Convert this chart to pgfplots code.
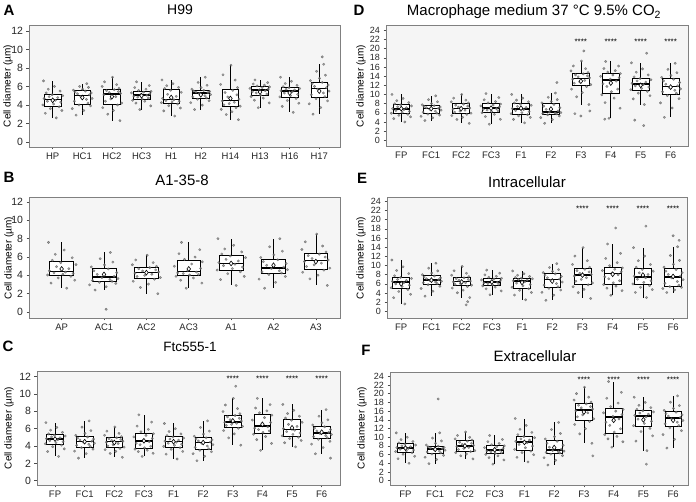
\documentclass[border=0pt]{standalone}
\usepackage{fontspec}
\setmainfont{Liberation Sans}
\usepackage{pgfplots}
\usepackage{pgfplotstable}
\pgfplotsset{compat=1.18}
\usepgfplotslibrary{statistics}

\pgfplotsset{
  panel/.style={
    scale only axis, anchor=south west,
    axis background/.style={fill=black!4},
    axis line style={draw=black!50, line width=0.8pt},
    tick align=outside, tick pos=left,
    major tick length=2.5pt,
    every tick/.style={black!70, line width=0.5pt},
    ticklabel style={text=black!85},
    /pgf/number format/assume math mode=true,
    xticklabel style={font=\fontsize{9.5}{9.5}\selectfont},
    xtick={1,...,10},
  },
  bp/.style={draw=black, line width=0.6pt, fill=white, solid,
    boxplot/draw direction=y,
    boxplot/box extend=0.56, boxplot/whisker extend=0,
    boxplot/every median/.style={line width=1.5pt}},
  pts/.style={only marks, mark=*, mark size=1.25pt,
    mark options={draw=black!65, fill=black!50, line width=0.25pt, opacity=0.75}},
  mn/.style={only marks, mark=diamond*, mark size=2.4pt,
    mark options={draw=black, fill=white, line width=0.6pt}},
}
\newcommand{\bx}[6]{\addplot[bp, boxplot prepared={draw position=#1, lower whisker=#2,
  lower quartile=#3, median=#4, upper quartile=#5, upper whisker=#6}] coordinates {};}
\newcommand{\jit}[4]{\addplot[pts] table[x expr={#1+\thisrow{#2}}, y=#3] {#4};}
\newcommand{\stars}[1]{\node[font=\fontsize{8}{8}\selectfont] at (axis cs:7,#1) {****};
  \node[font=\fontsize{8}{8}\selectfont] at (axis cs:8,#1) {****};
  \node[font=\fontsize{8}{8}\selectfont] at (axis cs:9,#1) {****};
  \node[font=\fontsize{8}{8}\selectfont] at (axis cs:10,#1) {****};}

% H99
\pgfplotstableread{
ja jb jc jd HP HC1 HC2 HC3 H1 H2 H14 H13 H16 H17
0.12 -0.21 0.27 -0.06 2.6 2.9 2.3 3.5 2.8 3.5 2.4 3.7 3.2 3.0
-0.25 0.05 -0.14 0.31 3.1 3.4 3.0 3.9 3.36 3.98 2.96 4.22 3.84 3.72
0.31 -0.34 0.05 -0.19 3.4 3.6 3.4 4.2 3.67 4.24 3.27 4.51 4.19 4.12
-0.08 0.28 -0.31 0.11 3.6 3.9 3.7 4.4 3.92 4.46 3.52 4.74 4.48 4.44
0.22 -0.11 0.19 -0.30 3.8 4.0 4.0 4.5 4.1 4.62 3.7 4.91 4.69 4.67
-0.33 0.19 0.33 0.02 4.0 4.2 4.2 4.65 4.24 4.76 3.87 5.06 4.87 4.9
0.03 -0.27 -0.22 0.23 4.1 4.4 4.4 4.75 4.32 4.88 4.01 5.18 5.01 5.1
0.27 0.14 -0.04 -0.13 4.3 4.6 4.65 4.85 4.4 5.0 4.15 5.3 5.15 5.3
-0.18 0.33 0.13 -0.26 4.4 4.7 4.9 4.95 4.48 5.12 4.29 5.42 5.29 5.5
0.09 -0.05 -0.27 0.18 4.5 4.9 5.1 5.05 4.56 5.24 4.43 5.54 5.43 5.7
-0.29 0.24 0.29 -0.02 4.7 5.1 5.25 5.14 4.71 5.33 4.62 5.64 5.54 5.87
0.17 -0.16 -0.09 0.28 4.8 5.2 5.35 5.22 4.93 5.39 4.86 5.72 5.62 6.01
-0.12 0.30 0.22 -0.34 4.9 5.3 5.45 5.3 5.15 5.45 5.1 5.8 5.7 6.15
0.34 -0.24 -0.18 0.07 5.0 5.4 5.55 5.38 5.37 5.51 5.34 5.88 5.78 6.29
-0.02 0.10 0.08 0.32 5.1 5.5 5.65 5.46 5.59 5.57 5.58 5.96 5.86 6.43
-0.22 -0.30 0.24 -0.10 5.3 5.6 5.8 5.57 5.77 5.7 5.88 6.05 5.98 6.63
0.25 0.01 -0.33 0.15 5.5 5.7 6.0 5.7 5.9 5.88 6.22 6.14 6.12 6.88
-0.15 0.21 0.16 -0.23 5.7 5.9 6.2 5.88 6.08 6.13 6.69 6.27 6.32 7.22
0.06 -0.09 -0.25 0.26 6.0 6.0 6.5 6.1 6.3 6.44 7.26 6.42 6.56 7.64
-0.31 0.15 0.02 -0.17 6.6 6.3 7.0 6.5 6.7 7.0 8.3 6.7 7.0 8.4
}\tA

% A1-35-8
\pgfplotstableread{
ja jb jc jd AP AC1 AC2 AC3 A1 A2 A3
0.12 -0.21 0.27 -0.06 2.6 2.4 2.0 2.6 2.9 2.6 2.9
-0.25 0.05 -0.14 0.31 3.16 2.76 2.68 3.16 3.54 3.24 3.62
0.31 -0.34 0.05 -0.19 3.47 2.96 3.05 3.47 3.89 3.59 4.02
-0.08 0.28 -0.31 0.11 3.72 3.12 3.36 3.72 4.18 3.88 4.34
0.22 -0.11 0.19 -0.30 3.9 3.24 3.58 3.9 4.39 4.09 4.57
-0.33 0.19 0.33 0.02 4.04 3.35 3.76 4.04 4.58 4.26 4.79
0.03 -0.27 -0.22 0.23 4.12 3.45 3.88 4.12 4.74 4.38 4.97
0.27 0.14 -0.04 -0.13 4.2 3.55 4.0 4.2 4.9 4.5 5.15
-0.18 0.33 0.13 -0.26 4.28 3.65 4.12 4.28 5.06 4.62 5.33
0.09 -0.05 -0.27 0.18 4.36 3.75 4.24 4.36 5.22 4.74 5.51
-0.29 0.24 0.29 -0.02 4.51 3.9 4.36 4.52 5.39 4.9 5.68
0.17 -0.16 -0.09 0.28 4.73 4.1 4.48 4.76 5.57 5.1 5.84
-0.12 0.30 0.22 -0.34 4.95 4.3 4.6 5.0 5.75 5.3 6.0
0.34 -0.24 -0.18 0.07 5.17 4.5 4.72 5.24 5.93 5.5 6.16
-0.02 0.10 0.08 0.32 5.39 4.7 4.84 5.48 6.11 5.7 6.32
-0.22 -0.30 0.24 -0.10 5.65 4.92 4.99 5.74 6.33 5.95 6.55
0.25 0.01 -0.33 0.15 5.92 5.14 5.16 6.0 6.56 6.24 6.82
-0.15 0.21 0.16 -0.23 6.3 5.45 5.39 6.36 6.88 6.64 7.2
0.06 -0.09 -0.25 0.26 6.76 5.82 5.68 6.8 7.28 7.12 7.66
-0.31 0.15 0.02 -0.17 7.6 6.5 6.2 7.6 8.0 8.0 8.5
}\tB

% Ftc555-1
\pgfplotstableread{
ja jb jc jd FP FC1 FC2 FC3 F1 F2 F3 F4 F5 F6
0.12 -0.21 0.27 -0.06 2.8 2.6 2.7 2.8 2.5 2.3 4.1 3.5 3.9 3.1
-0.25 0.05 -0.14 0.31 3.36 3.12 3.14 3.16 3.06 2.82 4.94 4.3 4.38 3.82
0.31 -0.34 0.05 -0.19 3.67 3.41 3.38 3.36 3.37 3.11 5.4 4.74 4.64 4.22
-0.08 0.28 -0.31 0.11 3.92 3.64 3.58 3.52 3.62 3.34 5.78 5.1 4.86 4.54
0.22 -0.11 0.19 -0.30 4.1 3.81 3.72 3.64 3.8 3.51 6.05 5.36 5.02 4.77
-0.33 0.19 0.33 0.02 4.26 3.96 3.87 3.79 3.96 3.68 6.26 5.58 5.18 4.96
0.03 -0.27 -0.22 0.23 4.38 4.08 4.01 3.97 4.08 3.84 6.38 5.74 5.34 5.08
0.27 0.14 -0.04 -0.13 4.5 4.2 4.15 4.15 4.2 4.0 6.5 5.9 5.5 5.2
-0.18 0.33 0.13 -0.26 4.62 4.32 4.29 4.33 4.32 4.16 6.62 6.06 5.66 5.32
0.09 -0.05 -0.27 0.18 4.74 4.44 4.43 4.51 4.44 4.32 6.74 6.22 5.82 5.44
-0.29 0.24 0.29 -0.02 4.85 4.56 4.55 4.69 4.56 4.46 6.88 6.44 6.02 5.58
0.17 -0.16 -0.09 0.28 4.95 4.68 4.65 4.87 4.68 4.58 7.04 6.72 6.26 5.74
-0.12 0.30 0.22 -0.34 5.05 4.8 4.75 5.05 4.8 4.7 7.2 7.0 6.5 5.9
0.34 -0.24 -0.18 0.07 5.15 4.92 4.85 5.23 4.92 4.82 7.36 7.28 6.74 6.06
-0.02 0.10 0.08 0.32 5.25 5.04 4.95 5.41 5.04 4.94 7.52 7.56 6.98 6.22
-0.22 -0.30 0.24 -0.10 5.4 5.23 5.08 5.65 5.21 5.13 7.73 7.83 7.22 6.43
0.25 0.01 -0.33 0.15 5.58 5.46 5.24 5.92 5.4 5.38 7.98 8.06 7.44 6.68
-0.15 0.21 0.16 -0.23 5.83 5.78 5.46 6.3 5.67 5.72 8.32 8.38 7.75 7.02
0.06 -0.09 -0.25 0.26 6.14 6.18 5.72 6.76 6.0 6.14 8.74 8.78 8.12 7.44
-0.31 0.15 0.02 -0.17 6.7 6.9 6.2 7.6 6.6 6.9 9.5 9.5 8.8 8.2
}\tC

% Macrophage medium
\pgfplotstableread{
ja jb jc jd FP FC1 FC2 FC3 F1 F2 F3 F4 F5 F6
0.12 -0.21 0.27 -0.06 4.0 4.3 3.7 3.5 3.8 3.7 7.8 4.8 7.8 5.0
-0.25 0.05 -0.14 0.31 4.72 4.9 4.54 4.58 4.56 4.5 9.48 7.0 9.04 7.04
0.31 -0.34 0.05 -0.19 5.12 5.23 5.0 5.17 4.98 4.94 10.4 8.21 9.72 8.16
-0.08 0.28 -0.31 0.11 5.44 5.5 5.38 5.66 5.32 5.3 11.16 9.2 10.28 9.08
0.22 -0.11 0.19 -0.30 5.67 5.7 5.65 6.01 5.57 5.56 11.71 9.92 10.68 9.74
-0.33 0.19 0.33 0.02 5.9 5.91 5.91 6.28 5.81 5.75 12.15 10.59 11.04 10.26
0.03 -0.27 -0.22 0.23 6.1 6.13 6.13 6.44 6.03 5.85 12.45 11.17 11.32 10.58
0.27 0.14 -0.04 -0.13 6.3 6.35 6.35 6.6 6.25 5.95 12.75 11.75 11.6 10.9
-0.18 0.33 0.13 -0.26 6.5 6.57 6.57 6.76 6.47 6.05 13.05 12.33 11.88 11.22
0.09 -0.05 -0.27 0.18 6.7 6.79 6.79 6.92 6.69 6.15 13.35 12.91 12.16 11.54
-0.29 0.24 0.29 -0.02 6.9 6.97 7.01 7.1 6.92 6.38 13.61 13.35 12.43 11.88
0.17 -0.16 -0.09 0.28 7.1 7.11 7.23 7.3 7.16 6.74 13.83 13.65 12.69 12.24
-0.12 0.30 0.22 -0.34 7.3 7.25 7.45 7.5 7.4 7.1 14.05 13.95 12.95 12.6
0.34 -0.24 -0.18 0.07 7.5 7.39 7.67 7.7 7.64 7.46 14.27 14.25 13.21 12.96
-0.02 0.10 0.08 0.32 7.7 7.53 7.89 7.9 7.88 7.82 14.49 14.55 13.47 13.32
-0.22 -0.30 0.24 -0.10 7.95 7.75 8.14 8.15 8.14 8.16 14.79 14.88 13.83 13.73
0.25 0.01 -0.33 0.15 8.24 8.02 8.4 8.44 8.4 8.46 15.14 15.2 14.26 14.16
-0.15 0.21 0.16 -0.23 8.64 8.4 8.76 8.84 8.76 8.87 15.63 15.65 14.85 14.75
0.06 -0.09 -0.25 0.26 9.12 8.86 9.2 9.32 9.2 9.38 16.22 16.2 15.58 15.48
-0.31 0.15 0.02 -0.17 10.0 9.7 10.0 10.2 10.0 10.3 17.3 17.2 16.9 16.8
}\tD

% Intracellular
\pgfplotstableread{
ja jb jc jd FP FC1 FC2 FC3 F1 F2 F3 F4 F5 F6
0.12 -0.21 0.27 -0.06 1.6 3.3 3.0 3.6 2.5 2.4 2.8 3.5 3.0 4.1
-0.25 0.05 -0.14 0.31 2.96 4.38 4.04 4.44 3.54 3.52 4.08 4.5 4.12 4.66
0.31 -0.34 0.05 -0.19 3.71 4.97 4.61 4.9 4.11 4.14 4.78 5.05 4.74 4.97
-0.08 0.28 -0.31 0.11 4.32 5.46 5.08 5.28 4.58 4.64 5.36 5.5 5.24 5.22
0.22 -0.11 0.19 -0.30 4.76 5.81 5.42 5.55 4.92 5.0 5.78 5.83 5.6 5.4
-0.33 0.19 0.33 0.02 5.14 6.08 5.69 5.77 5.25 5.37 6.19 6.22 5.97 5.7
0.03 -0.27 -0.22 0.23 5.42 6.24 5.87 5.91 5.55 5.71 6.57 6.66 6.31 6.1
0.27 0.14 -0.04 -0.13 5.7 6.4 6.05 6.05 5.85 6.05 6.95 7.1 6.65 6.5
-0.18 0.33 0.13 -0.26 5.98 6.56 6.23 6.19 6.15 6.39 7.33 7.54 6.99 6.9
0.09 -0.05 -0.27 0.18 6.26 6.72 6.41 6.33 6.45 6.73 7.71 7.98 7.33 7.3
-0.29 0.24 0.29 -0.02 6.51 6.9 6.59 6.49 6.67 7.04 8.04 8.34 7.68 7.68
0.17 -0.16 -0.09 0.28 6.73 7.1 6.77 6.67 6.81 7.32 8.32 8.62 8.04 8.04
-0.12 0.30 0.22 -0.34 6.95 7.3 6.95 6.85 6.95 7.6 8.6 8.9 8.4 8.4
0.34 -0.24 -0.18 0.07 7.17 7.5 7.13 7.03 7.09 7.88 8.88 9.18 8.76 8.76
-0.02 0.10 0.08 0.32 7.39 7.7 7.31 7.21 7.23 8.16 9.16 9.46 9.12 9.12
-0.22 -0.30 0.24 -0.10 7.76 7.99 7.57 7.42 7.41 8.45 9.62 9.96 9.62 9.64
0.25 0.01 -0.33 0.15 8.24 8.34 7.88 7.64 7.6 8.72 10.22 10.62 10.22 10.26
-0.15 0.21 0.16 -0.23 8.91 8.83 8.31 7.95 7.87 9.1 11.05 11.54 11.05 11.12
0.06 -0.09 -0.25 0.26 9.72 9.42 8.84 8.32 8.2 9.56 12.06 12.66 12.06 12.18
-0.31 0.15 0.02 -0.17 11.2 10.5 9.8 9.0 8.8 10.4 13.9 14.7 13.9 14.1
}\tE

% Extracellular
\pgfplotstableread{
ja jb jc jd FP FC1 FC2 FC3 F1 F2 F3 F4 F5 F6
0.12 -0.21 0.27 -0.06 4.0 3.9 5.0 3.8 4.3 3.6 8.6 7.7 6.9 7.5
-0.25 0.05 -0.14 0.31 5.04 4.86 5.72 4.76 5.38 4.68 10.76 8.94 9.1 9.5
0.31 -0.34 0.05 -0.19 5.61 5.39 6.12 5.29 5.97 5.27 11.95 9.62 10.31 10.6
-0.08 0.28 -0.31 0.11 6.08 5.82 6.44 5.72 6.46 5.76 12.92 10.18 11.3 11.5
0.22 -0.11 0.19 -0.30 6.42 6.13 6.67 6.03 6.81 6.11 13.62 10.58 12.02 12.15
-0.33 0.19 0.33 0.02 6.69 6.4 6.92 6.29 7.19 6.37 14.23 11.18 12.65 12.69
0.03 -0.27 -0.22 0.23 6.87 6.6 7.16 6.47 7.57 6.51 14.69 11.94 13.15 13.07
0.27 0.14 -0.04 -0.13 7.05 6.8 7.4 6.65 7.95 6.65 15.15 12.7 13.65 13.45
-0.18 0.33 0.13 -0.26 7.23 7.0 7.64 6.83 8.33 6.79 15.61 13.46 14.15 13.83
0.09 -0.05 -0.27 0.18 7.41 7.2 7.88 7.01 8.71 6.93 16.07 14.22 14.65 14.21
-0.29 0.24 0.29 -0.02 7.6 7.37 8.12 7.2 9.04 7.23 16.45 14.8 15.03 14.55
0.17 -0.16 -0.09 0.28 7.8 7.51 8.36 7.4 9.32 7.69 16.75 15.2 15.29 14.85
-0.12 0.30 0.22 -0.34 8.0 7.65 8.6 7.6 9.6 8.15 17.05 15.6 15.55 15.15
0.34 -0.24 -0.18 0.07 8.2 7.79 8.84 7.8 9.88 8.61 17.35 16.0 15.81 15.45
-0.02 0.10 0.08 0.32 8.4 7.93 9.08 8.0 10.16 9.07 17.65 16.4 16.07 15.75
-0.22 -0.30 0.24 -0.10 8.68 8.21 9.34 8.26 10.58 9.59 18.06 17.03 16.41 16.15
0.25 0.01 -0.33 0.15 9.0 8.6 9.6 8.56 11.1 10.12 18.54 17.84 16.8 16.62
-0.15 0.21 0.16 -0.23 9.45 9.14 9.96 8.97 11.82 10.86 19.21 18.96 17.34 17.27
0.06 -0.09 -0.25 0.26 10.0 9.8 10.4 9.48 12.7 11.76 20.02 20.32 18.0 18.06
-0.31 0.15 0.02 -0.17 11.0 11.0 11.2 10.4 14.3 13.4 21.5 22.8 19.2 19.5
}\tF

\begin{document}
\begin{tikzpicture}
\path[use as bounding box] (0,0) rectangle (696pt,502pt);

% ---- labels ----
\tikzset{lett/.style={font=\fontsize{15}{15}\selectfont\bfseries},
  ttl/.style={font=\fontsize{15}{15}\selectfont},
  ylab/.style={rotate=90, font=\fontsize{10}{10}\selectfont}}
\node[lett] at (9pt,492pt) {A};
\node[lett] at (9pt,325pt) {B};
\node[lett] at (8pt,156pt) {C};
\node[lett] at (359pt,492pt) {D};
\node[lett] at (362pt,324pt) {E};
\node[lett] at (366pt,152pt) {F};
\node[ttl, font=\fontsize{14}{14}\selectfont] at (180pt,492pt) {H99};
\node[ttl] at (182pt,322pt) {A1-35-8};
\node[ttl, font=\fontsize{13.5}{13.5}\selectfont] at (190pt,155pt) {Ftc555-1};
\node[ttl] at (534pt,490pt) {Macrophage medium 37 °C 9.5\% CO\textsubscript{2}};
\node[ttl] at (527pt,320pt) {Intracellular};
\node[ttl] at (535pt,146pt) {Extracellular};
\node[ylab] at (8pt,416pt) {Cell diameter (µm)};
\node[ylab] at (9pt,244pt) {Cell diameter (µm)};
\node[ylab] at (9pt,74pt) {Cell diameter (µm)};
\node[ylab] at (361pt,416pt) {Cell diameter (µm)};
\node[ylab] at (361pt,244pt) {Cell diameter (µm)};
\node[ylab] at (362pt,74pt) {Cell diameter (µm)};

% ---- A: H99 ----
\begin{axis}[panel, at={(29pt,355pt)}, width=311pt, height=122pt,
  xmin=0.2, xmax=10.7, ymin=-0.55, ymax=12.65, ytick={0,2,...,12},
  yticklabel style={font=\fontsize{10.5}{10.5}\selectfont},
  xticklabels={HP,HC1,HC2,HC3,H1,H2,H14,H13,H16,H17}]
\bx{1}{2.6}{3.9}{4.6}{5.2}{6.6}
\bx{2}{2.9}{4.1}{5.0}{5.6}{6.3}
\bx{3}{2.3}{4.1}{5.2}{5.7}{7.0}
\bx{4}{3.5}{4.6}{5.1}{5.5}{6.5}
\bx{5}{2.8}{4.2}{4.6}{5.7}{6.7}
\bx{6}{3.5}{4.7}{5.3}{5.6}{7.0}
\bx{7}{2.4}{3.8}{4.5}{5.7}{8.3}
\bx{8}{3.7}{5.0}{5.6}{6.0}{6.7}
\bx{9}{3.2}{4.8}{5.5}{5.9}{7.0}
\bx{10}{3.0}{4.8}{5.8}{6.5}{8.4}
\jit{1}{ja}{HP}{\tA} \jit{2}{jb}{HC1}{\tA} \jit{3}{jc}{HC2}{\tA}
\jit{4}{jd}{HC3}{\tA} \jit{5}{ja}{H1}{\tA} \jit{6}{jb}{H2}{\tA}
\jit{7}{jc}{H14}{\tA} \jit{8}{jd}{H13}{\tA} \jit{9}{ja}{H16}{\tA}
\jit{10}{jb}{H17}{\tA}
\addplot[pts] coordinates {(10.1,9.2)};
\addplot[mn] coordinates {(1,4.5)(2,4.8)(3,4.9)(4,5.0)(5,4.8)(6,5.1)(7,4.7)(8,5.4)(9,5.3)(10,5.5)};
\end{axis}

% ---- B: A1-35-8 ----
\begin{axis}[panel, at={(29pt,184pt)}, width=311pt, height=121pt,
  xmin=0.23, xmax=7.57, ymin=-0.65, ymax=12.55, ytick={0,2,...,12}, xtick={1,...,7},
  yticklabel style={font=\fontsize{10.5}{10.5}\selectfont},
  xticklabels={AP,AC1,AC2,AC3,A1,A2,A3}]
\bx{1}{2.6}{4.0}{4.4}{5.5}{7.6}
\bx{2}{2.4}{3.3}{3.8}{4.8}{6.5}
\bx{3}{2.0}{3.7}{4.3}{4.9}{6.2}
\bx{4}{2.6}{4.0}{4.4}{5.6}{7.6}
\bx{5}{2.9}{4.5}{5.3}{6.2}{8.0}
\bx{6}{2.6}{4.2}{4.8}{5.8}{8.0}
\bx{7}{2.9}{4.7}{5.6}{6.4}{8.5}
\jit{1}{ja}{AP}{\tB} \jit{2}{jb}{AC1}{\tB} \jit{3}{jc}{AC2}{\tB}
\jit{4}{jd}{AC3}{\tB} \jit{5}{ja}{A1}{\tB} \jit{6}{jb}{A2}{\tB}
\jit{7}{jc}{A3}{\tB}
\addplot[pts] coordinates {(2.05,0.3)};
\addplot[mn] coordinates {(1,4.7)(2,4.1)(3,4.3)(4,4.7)(5,5.3)(6,5.1)(7,5.5)};
\end{axis}

% ---- C: Ftc555-1 ----
\begin{axis}[panel, at={(37pt,17pt)}, width=303pt, height=114pt,
  xmin=0.39, xmax=10.62, ymin=-0.5, ymax=12.66, ytick={0,2,...,12},
  yticklabel style={font=\fontsize{10.5}{10.5}\selectfont},
  xticklabels={FP,FC1,FC2,FC3,F1,F2,F3,F4,F5,F6}]
\bx{1}{2.8}{4.2}{4.8}{5.3}{6.7}
\bx{2}{2.6}{3.9}{4.5}{5.1}{6.9}
\bx{3}{2.7}{3.8}{4.5}{5.0}{6.2}
\bx{4}{2.8}{3.7}{4.6}{5.5}{7.6}
\bx{5}{2.5}{3.9}{4.5}{5.1}{6.6}
\bx{6}{2.3}{3.6}{4.4}{5.0}{6.9}
\bx{7}{4.1}{6.2}{6.8}{7.6}{9.5}
\bx{8}{3.5}{5.5}{6.3}{7.7}{9.5}
\bx{9}{3.9}{5.1}{5.9}{7.1}{8.8}
\bx{10}{3.1}{4.9}{5.5}{6.3}{8.2}
\jit{1}{ja}{FP}{\tC} \jit{2}{jb}{FC1}{\tC} \jit{3}{jc}{FC2}{\tC}
\jit{4}{jd}{FC3}{\tC} \jit{5}{ja}{F1}{\tC} \jit{6}{jb}{F2}{\tC}
\jit{7}{jc}{F3}{\tC} \jit{8}{jd}{F4}{\tC} \jit{9}{ja}{F5}{\tC}
\jit{10}{jb}{F6}{\tC}
\addplot[pts] coordinates {(7.1,10.9)(10.3,2.6)};
\addplot[mn] coordinates {(1,4.8)(2,4.5)(3,4.4)(4,4.6)(5,4.5)(6,4.4)(7,6.9)(8,6.5)(9,6.1)(10,5.6)};
\stars{11.8}
\end{axis}

% ---- D: Macrophage medium ----
\begin{axis}[panel, at={(386pt,356pt)}, width=302pt, height=121pt,
  xmin=0.49, xmax=10.58, ymin=-1.25, ymax=25.16, ytick={0,2,...,24},
  yticklabel style={font=\fontsize{9}{9}\selectfont},
  xticklabels={FP,FC1,FC2,FC3,F1,F2,F3,F4,F5,F6}]
\bx{1}{4.0}{5.8}{6.8}{7.8}{10.0}
\bx{2}{4.3}{5.8}{6.9}{7.6}{9.7}
\bx{3}{3.7}{5.8}{6.9}{8.0}{10.0}
\bx{4}{3.5}{6.2}{7.0}{8.0}{10.2}
\bx{5}{3.8}{5.7}{6.8}{8.0}{10.0}
\bx{6}{3.7}{5.7}{6.2}{8.0}{10.3}
\bx{7}{7.8}{12.0}{13.5}{14.6}{17.3}
\bx{8}{4.8}{10.3}{13.2}{14.7}{17.2}
\bx{9}{7.8}{10.9}{12.3}{13.6}{16.9}
\bx{10}{5.0}{10.1}{11.7}{13.5}{16.8}
\jit{1}{ja}{FP}{\tD} \jit{2}{jb}{FC1}{\tD} \jit{3}{jc}{FC2}{\tD}
\jit{4}{jd}{FC3}{\tD} \jit{5}{ja}{F1}{\tD} \jit{6}{jb}{F2}{\tD}
\jit{7}{jc}{F3}{\tD} \jit{8}{jd}{F4}{\tD} \jit{9}{ja}{F5}{\tD}
\jit{10}{jb}{F6}{\tD}
\addplot[pts] coordinates {(6.2,12.6)(7.1,19.5)(9.2,19.0)(8.8,4.4)(9.1,3.2)(7.0,5.3)(6.8,5.8)(7.3,6.4)(7.8,4.6)};
\addplot[mn] coordinates {(1,6.9)(2,6.9)(3,6.9)(4,7.0)(5,7.0)(6,6.8)(7,12.9)(8,12.5)(9,12.0)(10,11.6)};
\stars{21.6}
\end{axis}

% ---- E: Intracellular ----
\begin{axis}[panel, at={(387pt,184pt)}, width=300pt, height=121pt,
  xmin=0.53, xmax=10.46, ymin=-1.47, ymax=24.97, ytick={0,2,...,24},
  yticklabel style={font=\fontsize{9}{9}\selectfont},
  xticklabels={FP,FC1,FC2,FC3,F1,F2,F3,F4,F5,F6}]
\bx{1}{1.6}{5.0}{6.4}{7.5}{11.2}
\bx{2}{3.3}{6.0}{6.8}{7.8}{10.5}
\bx{3}{3.0}{5.6}{6.5}{7.4}{9.8}
\bx{4}{3.6}{5.7}{6.4}{7.3}{9.0}
\bx{5}{2.5}{5.1}{6.6}{7.3}{8.8}
\bx{6}{2.4}{5.2}{6.9}{8.3}{10.4}
\bx{7}{2.8}{6.0}{7.9}{9.3}{13.9}
\bx{8}{3.5}{6.0}{8.2}{9.6}{14.7}
\bx{9}{3.0}{5.8}{7.5}{9.3}{13.9}
\bx{10}{4.1}{5.5}{7.5}{9.3}{14.1}
\jit{1}{ja}{FP}{\tE} \jit{2}{jb}{FC1}{\tE} \jit{3}{jc}{FC2}{\tE}
\jit{4}{jd}{FC3}{\tE} \jit{5}{ja}{F1}{\tE} \jit{6}{jb}{F2}{\tE}
\jit{7}{jc}{F3}{\tE} \jit{8}{jd}{F4}{\tE} \jit{9}{ja}{F5}{\tE}
\jit{10}{jb}{F6}{\tE}
\addplot[pts] coordinates {(3.15,1.4)(3.2,2.1)(8.1,18.2)(9.1,18.6)(10.0,16.5)(10.2,15.5)};
\addplot[mn] coordinates {(1,6.0)(2,6.8)(3,6.4)(4,6.4)(5,6.3)(6,6.6)(7,7.9)(8,8.1)(9,7.9)(10,7.6)};
\stars{22.4}
\end{axis}

% ---- F: Extracellular ----
\begin{axis}[panel, at={(390pt,17pt)}, width=298pt, height=113pt,
  xmin=0.48, xmax=10.5, ymin=-1.0, ymax=25.0, ytick={0,2,...,24},
  yticklabel style={font=\fontsize{9}{9}\selectfont},
  xticklabels={FP,FC1,FC2,FC3,F1,F2,F3,F4,F5,F6}]
\bx{1}{4.0}{6.6}{7.5}{8.5}{11.0}
\bx{2}{3.9}{6.3}{7.3}{8.0}{11.0}
\bx{3}{5.0}{6.8}{8.0}{9.2}{11.2}
\bx{4}{3.8}{6.2}{7.1}{8.1}{10.4}
\bx{5}{4.3}{7.0}{8.9}{10.3}{14.3}
\bx{6}{3.6}{6.3}{7.0}{9.3}{13.4}
\bx{7}{8.6}{14.0}{16.3}{17.8}{21.5}
\bx{8}{7.7}{10.8}{14.6}{16.6}{22.8}
\bx{9}{6.9}{12.4}{14.9}{16.2}{19.2}
\bx{10}{7.5}{12.5}{14.4}{15.9}{19.5}
\jit{1}{ja}{FP}{\tF} \jit{2}{jb}{FC1}{\tF} \jit{3}{jc}{FC2}{\tF}
\jit{4}{jd}{FC3}{\tF} \jit{5}{ja}{F1}{\tF} \jit{6}{jb}{F2}{\tF}
\jit{7}{jc}{F3}{\tF} \jit{8}{jd}{F4}{\tF} \jit{9}{ja}{F5}{\tF}
\jit{10}{jb}{F6}{\tF}
\addplot[pts] coordinates {(2.1,18.8)(7.3,5.7)(9.1,3.8)};
\addplot[mn] coordinates {(1,7.5)(2,7.2)(3,8.0)(4,7.1)(5,8.8)(6,7.6)(7,15.8)(8,13.9)(9,14.0)(10,13.9)};
\stars{23.3}
\end{axis}
\end{tikzpicture}
\end{document}
